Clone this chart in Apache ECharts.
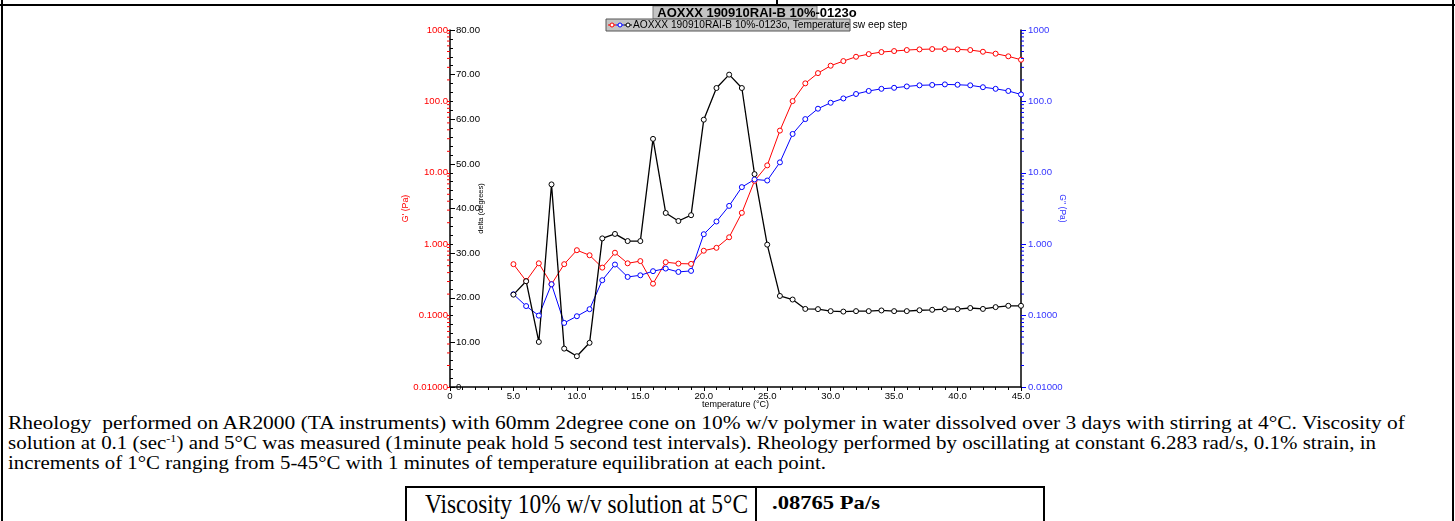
<!DOCTYPE html>
<html>
<head>
<meta charset="utf-8">
<script src="https://cdn.jsdelivr.net/npm/echarts@6/dist/echarts.min.js"></script>
<style>
html,body{margin:0;padding:0;background:#fff;}
#page{position:relative;width:1455px;height:521px;overflow:hidden;background:#fff;}
#chart{position:absolute;left:0;top:0;width:1455px;height:412px;}
.ln{position:absolute;background:#000;}
#para{position:absolute;left:8px;top:413px;font-family:"Liberation Serif","Times New Roman",serif;font-size:19px;color:#000;}
.pl{display:block;height:20px;line-height:20px;white-space:nowrap;}
.fit{display:inline-block;transform-origin:0 50%;white-space:nowrap;}
sup{font-size:11px;line-height:0;vertical-align:7px;}
#tbl{position:absolute;left:405px;top:486px;width:636px;height:60px;border-top:2px solid #000;border-left:2px solid #000;border-right:2px solid #000;font-family:"Liberation Serif","Times New Roman",serif;}
#c1{position:absolute;left:0;top:0;width:348px;height:60px;border-right:2px solid #000;}
#c1 .fit{position:absolute;left:18px;top:1px;font-size:28px;line-height:30px;}
#c2{position:absolute;left:365px;top:4px;font-size:19px;font-weight:bold;line-height:22px;}
</style>
</head>
<body>
<div id="page">
  <div id="chart"></div>
  <div class="ln" style="left:0;top:4px;width:1455px;height:2px;"></div>
  <div class="ln" style="left:776px;top:0;width:2px;height:5px;"></div>
  <div class="ln" style="left:1px;top:0;width:1.5px;height:521px;"></div>
  <div class="ln" style="left:1452px;top:0;width:1.5px;height:521px;"></div>
  <div id="para">
    <div class="pl"><span class="fit" data-w="1397">Rheology&nbsp; performed on AR2000 (TA instruments) with 60mm 2degree cone on 10% w/v polymer in water dissolved over 3 days with stirring at 4°C. Viscosity of</span></div>
    <div class="pl"><span class="fit" data-w="1368">solution at 0.1 (sec<sup>-1</sup>) and 5°C was measured (1minute peak hold 5 second test intervals). Rheology performed by oscillating at constant 6.283 rad/s, 0.1% strain, in</span></div>
    <div class="pl"><span class="fit" data-w="818">increments of 1°C ranging from 5-45°C with 1 minutes of temperature equilibration at each point.</span></div>
  </div>
  <div id="tbl">
    <div id="c1"><span class="fit" data-w="323">Viscosity 10% w/v solution at 5°C</span></div>
    <div id="c2"><span class="fit" data-w="108">.08765 Pa/s</span></div>
  </div>
</div>
<script>
// ---- data ----
const temperatures = [5,6,7,8,9,10,11,12,13,14,15,16,17,18,19,20,21,22,23,24,25,26,27,28,29,30,31,32,33,34,35,36,37,38,39,40,41,42,43,44,45];
const storageModulus = [0.525,0.306,0.54,0.275,0.525,0.824,0.70,0.47,0.76,0.54,0.58,0.28,0.56,0.535,0.53,0.81,0.89,1.25,2.75,7.7,12.7,39,101,179,249,316,367,422,460,491,507,524,535,541,541,535,524,496,466,428,383];
const lossModulus = [0.199,0.136,0.100,0.275,0.079,0.098,0.123,0.313,0.519,0.348,0.367,0.419,0.456,0.409,0.423,1.38,2.08,3.44,6.3,8.07,7.8,14.0,35,56.5,79,95.7,110,127,140,150,155,162,168,170,173,171,168,158,150,140,125];
const deltaDegrees = [20.7,23.7,10.1,45.4,8.6,6.9,9.9,33.3,34.3,32.7,32.7,55.6,39.0,37.2,38.5,59.9,67.0,70.0,67.0,47.7,31.9,20.4,19.6,17.5,17.45,17.0,16.9,17.0,17.0,17.15,17.0,17.0,17.2,17.3,17.45,17.45,17.7,17.5,17.9,18.2,18.2];
const tempTickLabels = ['0','5.0','10.0','15.0','20.0','25.0','30.0','35.0','40.0','45.0'];
const deltaTickLabels = ['0','10.00','20.00','30.00','40.00','50.00','60.00','70.00','80.00'];
const logTickLabels = ['0.01000','0.1000','1.000','10.00','100.0','1000'];
const titleText = 'AOXXX 190910RAI-B 10%-0123o';
const legendText = 'AOXXX 190910RAI-B 10%-0123o, Temperature sw eep step';

// fit text runs to the widths measured on the reference
document.querySelectorAll('.fit').forEach(el => {
  const w = el.getBoundingClientRect().width;
  el.style.transform = 'scaleX(' + (parseFloat(el.dataset.w) / w) + ')';
});

const logFmt = v => { const e = Math.round(Math.log10(v)); return logTickLabels[e + 2] || ''; };

// log minor tick positions (2..9 per decade)
const minorLeft = [], minorRight = [];
for (let e = -2; e < 3; e++) {
  for (let m = 2; m <= 9; m++) {
    const v = m * Math.pow(10, e);
    minorLeft.push([0, v, -1]);
    minorRight.push([45, v, 1]);
  }
}
const tickRender = color => (params, api) => {
  const p = api.coord([api.value(0), api.value(1)]);
  const s = api.value(2);
  return {type: 'line', shape: {x1: p[0], y1: p[1], x2: p[0] + s * 3, y2: p[1]}, style: {stroke: color, lineWidth: 1}};
};

const chart = echarts.init(document.getElementById('chart'), null, {renderer: 'canvas'});
const font = '"Liberation Sans", Arial, sans-serif';
chart.setOption({
  animation: false,
  backgroundColor: 'transparent',
  textStyle: {fontFamily: font},
  grid: {left: 450, top: 30, width: 571, height: 357, containLabel: false, outerBoundsMode: 'none'},
  graphic: {elements: [
    {type: 'rect', shape: {x: 653, y: 6, width: 164, height: 13}, style: {fill: '#c4c4c4', stroke: '#7a7a7a', lineWidth: 1}, z: 0},
    {type: 'text', x: 757, y: 13, style: {text: titleText, font: 'bold 13px ' + font, fill: '#000', align: 'center', verticalAlign: 'middle'}, z: 2},
    {type: 'rect', shape: {x: 606, y: 19, width: 244, height: 12}, style: {fill: '#c4c4c4', stroke: '#555', lineWidth: 1}, z: 0},
    {type: 'line', shape: {x1: 608, y1: 25, x2: 616, y2: 25}, style: {stroke: '#ff0000', lineWidth: 1}, z: 2},
    {type: 'line', shape: {x1: 616, y1: 25, x2: 624, y2: 25}, style: {stroke: '#0000ff', lineWidth: 1}, z: 2},
    {type: 'line', shape: {x1: 624, y1: 25, x2: 632, y2: 25}, style: {stroke: '#000', lineWidth: 1}, z: 2},
    {type: 'circle', shape: {cx: 612, cy: 25, r: 2}, style: {fill: '#fff', stroke: '#ff0000', lineWidth: 1}, z: 3},
    {type: 'circle', shape: {cx: 620, cy: 25, r: 2}, style: {fill: '#fff', stroke: '#0000ff', lineWidth: 1}, z: 3},
    {type: 'circle', shape: {cx: 628, cy: 25, r: 2}, style: {fill: '#fff', stroke: '#000', lineWidth: 1}, z: 3},
    {type: 'text', x: 633, y: 25.5, style: {text: legendText, font: '10.2px ' + font, fill: '#000', align: 'left', verticalAlign: 'middle'}, z: 2}
  ]},
  xAxis: {
    type: 'value', min: 0, max: 45, interval: 5,
    axisLine: {show: true, onZero: false, lineStyle: {color: '#000', width: 1.5}},
    axisTick: {show: true, length: 4, lineStyle: {color: '#000', width: 1}},
    minorTick: {show: true, splitNumber: 5, length: 3, lineStyle: {color: '#000', width: 1}},
    splitLine: {show: false}, minorSplitLine: {show: false},
    axisLabel: {color: '#000', fontSize: 9.6, margin: 4, fontFamily: font, formatter: v => tempTickLabels[Math.round(v / 5)]},
    name: 'temperature (°C)', nameLocation: 'middle', nameGap: 13, nameMoveOverlap: false,
    nameTextStyle: {color: '#000', fontSize: 9, fontFamily: font}
  },
  yAxis: [
    {
      type: 'value', min: 0, max: 80, interval: 10, position: 'left',
      axisLine: {show: true, onZero: false, lineStyle: {color: '#000', width: 1.5}},
      axisTick: {show: true, inside: true, length: 5, lineStyle: {color: '#000'}},
      minorTick: {show: true, splitNumber: 5, length: 3, lineStyle: {color: '#000'}},
      splitLine: {show: false}, minorSplitLine: {show: false},
      axisLabel: {inside: true, color: '#000', fontSize: 9.6, margin: 6, fontFamily: font, showMinLabel: true, showMaxLabel: true, formatter: v => deltaTickLabels[Math.round(v / 10)]},
      name: 'delta (degrees)', nameLocation: 'middle', nameGap: -35, nameRotate: 90, nameMoveOverlap: false,
      nameTextStyle: {color: '#000', fontSize: 7.5, fontFamily: font}
    },
    {
      type: 'log', logBase: 10, min: 0.01, max: 1000, splitNumber: 5, position: 'left',
      axisLine: {show: false},
      axisTick: {show: true, length: 3, lineStyle: {color: '#ff0000'}},
      splitLine: {show: false},
      axisLabel: {color: '#ff0000', fontSize: 9.6, margin: 2, fontFamily: font, showMinLabel: true, showMaxLabel: true, formatter: logFmt},
      name: "G' (Pa)", nameLocation: 'middle', nameGap: 40, nameRotate: 90, nameMoveOverlap: false,
      nameTextStyle: {color: '#ff0000', fontSize: 8.8, fontFamily: font}
    },
    {
      type: 'log', logBase: 10, min: 0.01, max: 1000, splitNumber: 5, position: 'right',
      axisLine: {show: true, onZero: false, lineStyle: {color: '#000', width: 1.5}},
      axisTick: {show: true, length: 5, lineStyle: {color: '#0000ff'}},
      splitLine: {show: false},
      axisLabel: {color: '#3535ff', fontSize: 9.6, margin: 7, fontFamily: font, showMinLabel: true, showMaxLabel: true, formatter: logFmt},
      name: "G'' (Pa)", nameLocation: 'middle', nameGap: 37, nameRotate: -90, nameMoveOverlap: false,
      nameTextStyle: {color: '#3535ff', fontSize: 8.5, fontFamily: font}
    }
  ],
  series: [
    {type: 'custom', name: 'minorL', xAxisIndex: 0, yAxisIndex: 1, data: minorLeft, renderItem: tickRender('#ff0000'), silent: true, clip: false, z: 5},
    {type: 'custom', name: 'minorR', xAxisIndex: 0, yAxisIndex: 2, data: minorRight, renderItem: tickRender('#0000ff'), silent: true, clip: false, z: 5},
    {
      type: 'line', name: "G'", xAxisIndex: 0, yAxisIndex: 1,
      data: temperatures.map((t, i) => [t, storageModulus[i]]),
      symbol: 'circle', symbolSize: 5, showAllSymbol: true,
      lineStyle: {color: '#ff0000', width: 1}, itemStyle: {color: '#fff', borderColor: '#ff0000', borderWidth: 1}
    },
    {
      type: 'line', name: "G''", xAxisIndex: 0, yAxisIndex: 2,
      data: temperatures.map((t, i) => [t, lossModulus[i]]),
      symbol: 'circle', symbolSize: 5, showAllSymbol: true,
      lineStyle: {color: '#0000ff', width: 1}, itemStyle: {color: '#fff', borderColor: '#0000ff', borderWidth: 1}
    },
    {
      type: 'line', name: 'delta', xAxisIndex: 0, yAxisIndex: 0,
      data: temperatures.map((t, i) => [t, deltaDegrees[i]]),
      symbol: 'circle', symbolSize: 5, showAllSymbol: true,
      lineStyle: {color: '#000', width: 1.3}, itemStyle: {color: '#fff', borderColor: '#000', borderWidth: 1}
    }
  ]
});
</script>
</body>
</html>
